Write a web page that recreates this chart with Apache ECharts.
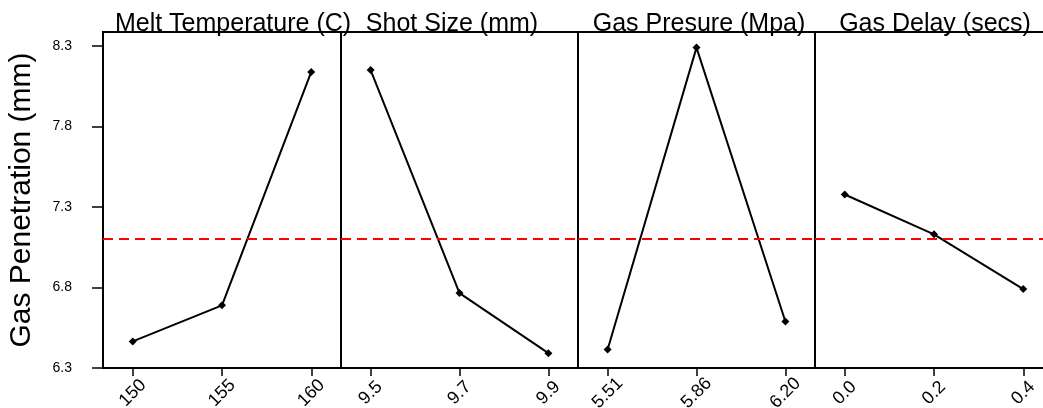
<!DOCTYPE html>
<html>
<head>
<meta charset="utf-8">
<script src="https://cdn.jsdelivr.net/npm/echarts@6/dist/echarts.min.js"></script>
<style>html,body{margin:0;padding:0;background:#fff;}#c{width:1043px;height:408px;}</style>
</head>
<body>
<div id="c"></div>
<script>
// ---- data ----
var panelTitles = ['Melt Temperature (C)', 'Shot Size (mm)', 'Gas Presure (Mpa)', 'Gas Delay (secs)'];
var meltLevels = ['150', '155', '160'];
var shotLevels = ['9.5', '9.7', '9.9'];
var presLevels = ['5.51', '5.86', '6.20'];
var delayLevels = ['0.0', '0.2', '0.4'];
var meltMeans = [6.465, 6.689, 8.138];
var shotMeans = [8.150, 6.765, 6.392];
var presMeans = [6.415, 8.289, 6.589];
var delayMeans = [7.377, 7.130, 6.790];
var grandMean = 7.103;
var yTicks = [6.3, 6.8, 7.3, 7.8, 8.3];
var yAxisTitle = 'Gas Penetration (mm)';

var levels = [meltLevels, shotLevels, presLevels, delayLevels];
var means = [meltMeans, shotMeans, presMeans, delayMeans];

// ---- layout ----
var FONT = "'Liberation Sans', Arial, sans-serif";
var lefts = [103, 341, 578, 815];
var widths = [238, 237, 237, 238];
var TOP = 32, H = 336;
var titleCenters = [228, 447, 694, 930];

var grids = [], xAxes = [], yAxes = [], series = [], titles = [];
for (var i = 0; i < 4; i++) {
  (function (i) {
    grids.push({left: lefts[i], top: TOP, width: widths[i], height: H, show: true,
      outerBoundsMode: 'none',
      borderColor: '#000', borderWidth: 2, backgroundColor: 'transparent', containLabel: false});
    xAxes.push({type: 'value', gridIndex: i, min: -1 / 3, max: 7 / 3,
      axisLine: {show: false, onZero: false}, splitLine: {show: false},
      axisTick: {show: true, customValues: [0, 1, 2], length: 8, inside: false, lineStyle: {color: '#000', width: 1.5}},
      axisLabel: {show: true, customValues: [0, 1, 2], rotate: 45, margin: 25, align: 'center', verticalAlign: 'middle',
        fontFamily: FONT, fontSize: 18, color: '#000',
        formatter: function (v) { return levels[i][Math.round(v)]; }}});
    yAxes.push({type: 'value', gridIndex: i, min: 6.3, max: 8.386,
      name: i === 0 ? yAxisTitle : '', nameLocation: 'middle', nameGap: 66,
      nameTextStyle: {fontFamily: FONT, fontSize: 30, color: '#000'},
      axisLine: {show: false, onZero: false}, splitLine: {show: false},
      axisTick: {show: i === 0, customValues: yTicks, length: 11, lineStyle: {color: '#000', width: 1.5}},
      axisLabel: {show: i === 0, customValues: yTicks, margin: 31, fontFamily: FONT, fontSize: 14, color: '#000',
        formatter: function (v) { return v.toFixed(1); }}});
    series.push({type: 'line', xAxisIndex: i, yAxisIndex: i,
      data: means[i].map(function (v, k) { return [k, v]; }),
      symbol: 'diamond', symbolSize: 8, showSymbol: true,
      lineStyle: {color: '#000', width: 2}, itemStyle: {color: '#000'},
      animation: false, silent: true,
      markLine: {silent: true, symbol: 'none', label: {show: false},
        lineStyle: {color: '#ff0000', type: [10, 6], width: 2},
        data: [{yAxis: grandMean}]}});
    titles.push({text: panelTitles[i], left: titleCenters[i], textAlign: 'center', top: 7,
      textStyle: {fontFamily: FONT, fontSize: 25, fontWeight: 'normal', color: '#000'}});
  })(i);
}

var chart = echarts.init(document.getElementById('c'), null, {renderer: 'canvas'});
chart.setOption({
  animation: false,
  backgroundColor: '#fff',
  title: titles,
  grid: grids,
  xAxis: xAxes,
  yAxis: yAxes,
  series: series
});
</script>
</body>
</html>
